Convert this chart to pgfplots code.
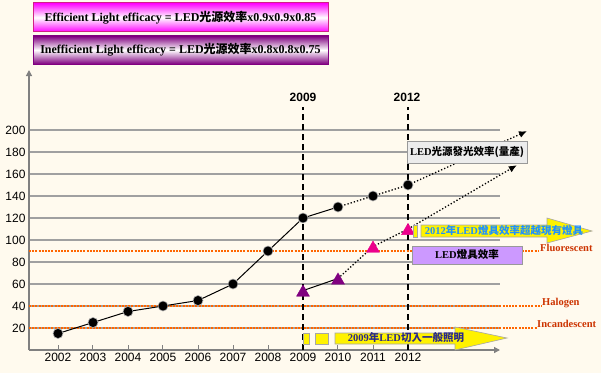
\documentclass[border=0pt]{standalone}
\usepackage{pgfplots}
\pgfplotsset{compat=1.18}
\usepackage{fontspec}
\setmainfont{Liberation Serif}
\newfontfamily\arial{Liberation Sans}
\newfontfamily\cjk{Noto Sans CJK TC}
\usetikzlibrary{arrows.meta}
\definecolor{bg}{RGB}{255,250,238}
\definecolor{refor}{RGB}{255,102,0}
\definecolor{labred}{RGB}{204,51,0}
\definecolor{dpurple}{RGB}{128,0,128}
\definecolor{lav}{RGB}{204,153,255}
\definecolor{skyb}{RGB}{30,144,255}
\definecolor{navy2}{RGB}{40,40,140}
\definecolor{gridg}{RGB}{160,160,160}
\definecolor{axisg}{RGB}{128,128,128}
\begin{document}
\begin{tikzpicture}[x=1pt,y=1pt]
\useasboundingbox (0,0) rectangle (601,373);
\fill[bg] (0,0) rectangle (601,373);
% header boxes
\shade[top color=magenta, bottom color=magenta, middle color=white] (33,341) rectangle (328,370);
\draw[magenta!85!black, line width=1pt] (33,341) rectangle (328,370);
\node[font=\bfseries\fontsize{12}{12}\selectfont, inner sep=0] at (180.5,355.5) {Efficient Light efficacy = LED{\cjk\bfseries 光源效率}x0.9x0.9x0.85};
\shade[top color=dpurple, bottom color=dpurple, middle color=white] (33,309) rectangle (328,337);
\draw[dpurple, line width=1pt] (33,309) rectangle (328,337);
\node[font=\bfseries\fontsize{12}{12}\selectfont, inner sep=0] at (180.5,323) {Inefficient Light efficacy = LED{\cjk\bfseries 光源效率}x0.8x0.8x0.75};
\begin{axis}[
  at={(29pt,23pt)}, anchor=south west, scale only axis,
  width=471pt, height=280pt,
  xmin=2001.1714, xmax=2014.6286, ymin=0, ymax=254.55,
  axis lines=left,
  axis line style={draw=axisg, line width=1.2pt, -{Triangle[length=6pt,width=6pt]}},
  clip=false,
  xtick={2002,2003,...,2012}, ytick={20,40,...,200},
  x tick label style={/pgf/number format/1000 sep={}},
  tick label style={font=\arial\fontsize{12}{12}\selectfont},
  /pgf/number format/assume math mode=true,
  tick align=inside, major tick length=5pt,
  x tick style={draw=axisg, line width=1pt},
  y tick style={draw=none},
  ymajorgrids, grid style={draw=gridg, line width=1.3pt},
]
% reference lines
\addplot[refor, line width=2pt, dash pattern=on 2pt off 1.2pt] coordinates {(2001.1714,90) (2015.71,90)};
\addplot[refor, line width=2pt, dash pattern=on 2pt off 1.2pt] coordinates {(2001.1714,40) (2015.83,40)};
\addplot[refor, line width=2pt, dash pattern=on 2pt off 1.2pt] coordinates {(2001.1714,20) (2015.69,20)};
% year markers
\addplot[black, line width=1.2pt, dash pattern=on 6pt off 4pt] coordinates {(2009,0) (2009,221)};
\addplot[black, line width=1.2pt, dash pattern=on 6pt off 4pt] coordinates {(2012,0) (2012,221)};
% LED source efficacy
\addplot[black, line width=1pt] coordinates {(2002,15) (2003,25) (2004,35) (2005,40) (2006,45) (2007,60) (2008,90) (2009,120) (2010,130)};
\addplot[black, line width=1.3pt, dotted] coordinates {(2010,130) (2011,140) (2012,150)};
\addplot[black, line width=1.3pt, dotted, -{Latex[length=8pt,width=7pt]}] coordinates {(2012,150) (2015.4,199)};
% fixture efficacy
\addplot[black, line width=1pt] coordinates {(2009,54) (2010,65)};
\addplot[black, line width=1.3pt, dotted] coordinates {(2010,65) (2011,94) (2012,110)};
\addplot[black, line width=1.3pt, dotted, -{Latex[length=8pt,width=7pt]}] coordinates {(2012,110) (2015.11,168)};
% marks
\addplot[only marks, mark=*, mark size=5pt, mark options={fill=black, draw=gray!60, line width=0.6pt}] coordinates {(2002,15) (2003,25) (2004,35) (2005,40) (2006,45) (2007,60) (2008,90) (2009,120) (2010,130) (2011,140) (2012,150)};
\addplot[only marks, mark=triangle*, mark size=7.5pt, mark options={fill=dpurple, draw=dpurple, yshift=-1.9pt}] coordinates {(2009,54) (2010,65)};
\addplot[only marks, mark=triangle*, mark size=7.5pt, mark options={fill=magenta, draw=magenta, yshift=-1.9pt}] coordinates {(2011,94) (2012,110)};
\end{axis}
% top year labels
\node[font=\arial\bfseries\fontsize{12}{12}\selectfont] at (303,276) {2009};
\node[font=\arial\bfseries\fontsize{12}{12}\selectfont] at (407,276) {2012};
% gray box
\draw[draw=gray!80, fill=gray!15, line width=0.8pt] (407,210) rectangle (527,232);
\node[font=\bfseries\fontsize{10.5}{10.5}\selectfont, inner sep=0] at (467,221) {LED{\cjk\bfseries 光源發光效率(量產)}};
% purple box
\draw[draw=gray!80, fill=lav, line width=0.8pt] (412,109) rectangle (522,127);
\node[font=\bfseries\fontsize{10.5}{10.5}\selectfont, inner sep=0] at (467,118) {LED{\cjk\bfseries 燈具效率}};
% upper yellow arrow
\filldraw[fill=yellow, draw=gray!70, line width=0.6pt] (413,136) rectangle (417,148);
\filldraw[fill=yellow, draw=gray!70, line width=0.6pt] (421,136) -- (547,136) -- (547,130) -- (592,142) -- (547,155) -- (547,148) -- (421,148) -- cycle;
\node[text=skyb, font=\bfseries\fontsize{10.5}{10.5}\selectfont, inner sep=0] at (504,142) {2012{\cjk\bfseries 年}LED{\cjk\bfseries 燈具效率超越現有燈具}};
% bottom yellow arrow
\filldraw[fill=yellow, draw=gray!70, line width=0.6pt] (303,29) rectangle (309,40);
\filldraw[fill=yellow, draw=gray!70, line width=0.6pt] (315,29) rectangle (328,40);
\filldraw[fill=yellow, draw=gray!70, line width=0.6pt] (335,29) -- (455,29) -- (455,23) -- (507,35) -- (455,46) -- (455,40) -- (335,40) -- cycle;
\node[text=navy2, font=\bfseries\fontsize{10.5}{10.5}\selectfont, inner sep=0] at (406,35) {2009{\cjk\bfseries 年}LED{\cjk\bfseries 切入一般照明}};
% reference line labels
\node[anchor=west, text=labred, font=\bfseries\fontsize{10.5}{10.5}\selectfont, inner sep=0] at (540,125) {Fluorescent};
\node[anchor=west, text=labred, font=\bfseries\fontsize{10.5}{10.5}\selectfont, inner sep=0] at (542,70) {Halogen};
\node[anchor=west, text=labred, font=\bfseries\fontsize{10.5}{10.5}\selectfont, inner sep=0] at (537,49) {Incandescent};
\end{tikzpicture}
\end{document}
